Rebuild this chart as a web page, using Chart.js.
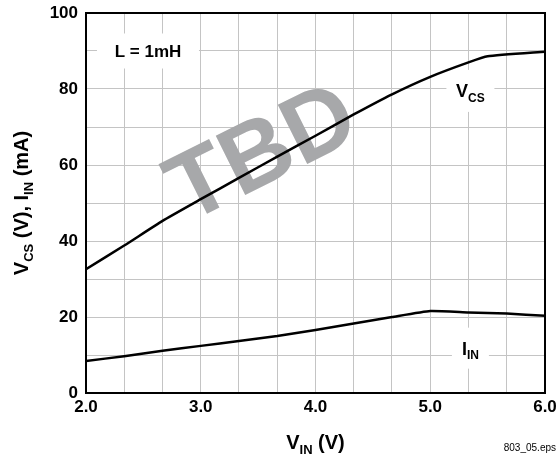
<!DOCTYPE html>
<html>
<head>
<meta charset="utf-8">
<script src="https://cdn.jsdelivr.net/npm/chart.js@4"></script>
<style>
html,body{margin:0;padding:0;background:#fff;}
#wrap{width:559px;height:458px;position:relative;}
</style>
</head>
<body>
<div id="wrap"><canvas id="c" width="559" height="458"></canvas></div>
<script>
// ---- data ----
const vinVcs = [2.0, 2.333, 2.667, 3.0, 3.333, 3.667, 4.0, 4.333, 4.667, 5.0, 5.333, 5.5, 6.0];
const vcs    = [32.6, 38.8, 45.3, 51.0, 56.6, 62.2, 67.7, 73.3, 78.6, 83.2, 87.0, 88.6, 89.8];
const vinIin = [2.0, 2.333, 2.667, 3.0, 3.333, 3.667, 4.0, 4.333, 4.667, 5.0, 5.333, 5.667, 6.0];
const iin    = [8.4, 9.7, 11.1, 12.4, 13.7, 15.0, 16.6, 18.3, 20.0, 21.6, 21.2, 20.9, 20.3];
const xTickValues = [2.0, 3.0, 4.0, 5.0, 6.0];
const yTickValues = [0, 20, 40, 60, 80, 100];

const FONT = "'Liberation Sans', Arial, Helvetica, sans-serif";

function pts(xs, ys){ return xs.map((x,i)=>({x:x, y:ys[i]})); }

// rich text with subscripts: parts = [{t, size, sub}]
function drawRich(ctx, parts, cx, cy, rot){
  ctx.save();
  ctx.translate(cx, cy);
  ctx.rotate(rot||0);
  let total = 0;
  parts.forEach(p=>{ ctx.font = 'bold '+p.size+'px '+FONT; p.w = ctx.measureText(p.t).width; total += p.w; });
  const capMain = parts[0].size*0.716;
  let x = -total/2;
  ctx.fillStyle = '#000';
  ctx.textBaseline = 'alphabetic';
  ctx.textAlign = 'left';
  parts.forEach(p=>{
    ctx.font = 'bold '+p.size+'px '+FONT;
    ctx.fillText(p.t, x, capMain/2 + (p.sub ? p.size*0.38 : 0));
    x += p.w;
  });
  ctx.restore();
}

// annotation boxes in data coordinates, sizes in px
const notes = [
  {x:2.54, y:90.0, w:102, h:35, parts:[{t:'L = 1mH', size:17}]},
  {x:5.35, y:79.5, w:48, h:42, parts:[{t:'V', size:18},{t:'CS', size:12, sub:true}]},
  {x:5.35, y:11.8, w:37, h:41, parts:[{t:'I', size:18},{t:'IN', size:12, sub:true}]}
];

const decor = {
  id:'decor',
  beforeDatasetsDraw(chart){
    const ctx = chart.ctx, xs = chart.scales.x, ys = chart.scales.y;
    // TBD watermark
    ctx.save();
    ctx.translate(xs.getPixelForValue(3.516), ys.getPixelForValue(64.2));
    ctx.rotate(-26.5*Math.PI/180);
    ctx.font = 'bold 96px '+FONT;
    ctx.fillStyle = '#a7a8aa';
    ctx.textAlign = 'center';
    ctx.textBaseline = 'alphabetic';
    ctx.fillText('TBD', 0, 96*0.716/2);
    ctx.restore();
    // label boxes
    notes.forEach(n=>{
      const px = xs.getPixelForValue(n.x), py = ys.getPixelForValue(n.y);
      ctx.fillStyle = '#fff';
      ctx.fillRect(px-n.w/2, py-n.h/2, n.w, n.h);
      drawRich(ctx, n.parts, px, py, 0);
    });
  },
  afterDatasetsDraw(chart){
    const ctx = chart.ctx, a = chart.chartArea;
    ctx.save();
    ctx.strokeStyle = '#000';
    ctx.lineWidth = 2;
    ctx.strokeRect(a.left, a.top, a.right-a.left, a.bottom-a.top);
    ctx.restore();
  },
  afterDraw(chart){
    const ctx = chart.ctx, a = chart.chartArea;
    // axis titles
    drawRich(ctx, [{t:'V', size:20},{t:'IN', size:13, sub:true},{t:' (V)', size:20}],
             (a.left+a.right)/2, 442, 0);
    drawRich(ctx, [{t:'V', size:20},{t:'CS', size:13, sub:true},{t:' (V), I', size:20},{t:'IN', size:13, sub:true},{t:' (mA)', size:20}],
             21, 203, -Math.PI/2);
    // file tag
    ctx.save();
    ctx.font = '10px '+FONT;
    ctx.fillStyle = '#000';
    ctx.textAlign = 'right';
    ctx.textBaseline = 'middle';
    ctx.fillText('803_05.eps', 556, 448);
    ctx.restore();
  }
};

new Chart(document.getElementById('c'), {
  type:'line',
  data:{
    datasets:[
      {label:'VCS', data:pts(vinVcs, vcs), borderColor:'#000', borderWidth:2.5, pointRadius:0, tension:0.15, fill:false},
      {label:'IIN', data:pts(vinIin, iin), borderColor:'#000', borderWidth:2.5, pointRadius:0, tension:0.15, fill:false}
    ]
  },
  options:{
    responsive:false,
    animation:false,
    events:[],
    layout:{padding:{left:0, top:13, right:14, bottom:0}},
    plugins:{legend:{display:false}, tooltip:{enabled:false}},
    scales:{
      x:{
        type:'linear', min:2, max:6,
        afterBuildTicks(s){ const t=[]; for(let i=0;i<=12;i++) t.push({value:2+i/3}); s.ticks=t; },
        afterFit(s){ s.height = 65; s.paddingLeft = 0; s.paddingRight = 0; },
        grid:{color:'#c4c4c4', lineWidth:1, drawTicks:false},
        border:{display:false},
        ticks:{
          autoSkip:false, maxRotation:0, padding:4, color:'#000',
          font:{family:FONT, size:17, weight:'bold'},
          callback(v){ const r = xTickValues.find(t=>Math.abs(t-v)<1e-6); return r===undefined ? '' : r.toFixed(1); }
        }
      },
      y:{
        type:'linear', min:0, max:100,
        ticks:{
          stepSize:10, padding:8, color:'#000',
          font:{family:FONT, size:17, weight:'bold'},
          callback(v){ return yTickValues.includes(v) ? String(v) : ''; }
        },
        afterFit(s){ s.width = 86; s.paddingTop = 0; s.paddingBottom = 0; },
        grid:{color:'#c4c4c4', lineWidth:1, drawTicks:false},
        border:{display:false}
      }
    }
  },
  plugins:[decor]
});
</script>
</body>
</html>
